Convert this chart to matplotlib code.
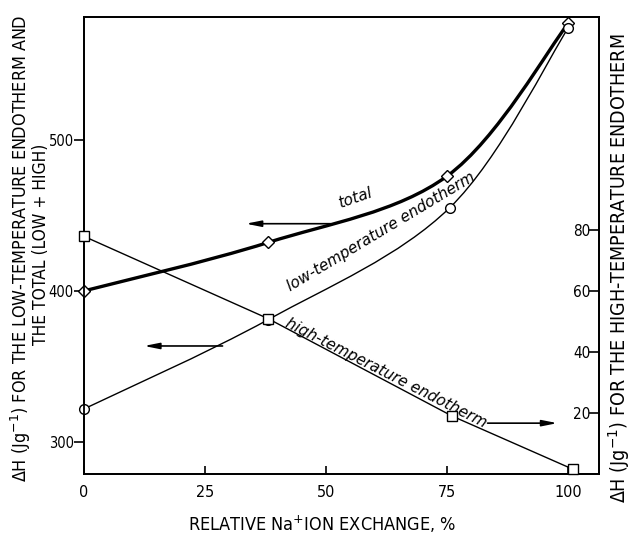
import numpy as np
import matplotlib
matplotlib.use("Agg")
import matplotlib.pyplot as plt
from matplotlib.path import Path
from matplotlib.patches import PathPatch
from matplotlib import font_manager as fm

# ---- data ----
x_total = [0, 38, 75, 100]
y_total = [400, 432, 476, 577]
x_low = [0, 38, 75.5, 100]
y_low = [322, 381, 455, 574]
x_high = [0, 38, 76, 101]
y_high = [78, 51, 19, 1.5]

left_ticks = [300, 400, 500]
right_ticks = [20, 40, 60, 80]
x_ticks = [0, 25, 50, 75, 100]

# pick a condensed font if available
cond = None
for f in fm.fontManager.ttflist:
    if f.name == 'DejaVu Sans' and f.stretch == 'condensed' and f.style == 'normal' and f.weight in (400, 'normal'):
        cond = fm.FontProperties(fname=f.fname)
        break
if cond is None:
    for nm in ['Roboto Condensed', 'Liberation Sans Narrow', 'Open Sans Condensed']:
        if any(f.name == nm for f in fm.fontManager.ttflist):
            cond = fm.FontProperties(family=nm)
            break
if cond is None:
    cond = fm.FontProperties(family='DejaVu Sans')

def cf(size):
    p = cond.copy()
    p.set_size(size)
    return p

plt.rcParams['font.family'] = ['DejaVu Sans']
plt.rcParams['mathtext.fontset'] = 'dejavusans'

fig = plt.figure(figsize=(6.34, 5.35), dpi=100)
ax = fig.add_axes([84/634, 1-474/535, (599-84)/634, (474-17)/535])
ax.set_xlim(0, 106.3)
ax.set_ylim(279, 581)

def smooth_path(xs, ys):
    pts = np.column_stack([xs, ys]).astype(float)
    n = len(pts)
    verts = [pts[0]]
    codes = [Path.MOVETO]
    for i in range(n - 1):
        p0 = pts[i - 1] if i > 0 else pts[i]
        p1 = pts[i]
        p2 = pts[i + 1]
        p3 = pts[i + 2] if i + 2 < n else pts[i + 1]
        c1 = p1 + (p2 - p0) / 6.0
        c2 = p2 - (p3 - p1) / 6.0
        verts += [c1, c2, p2]
        codes += [Path.CURVE4] * 3
    return Path(verts, codes)

ax.add_patch(PathPatch(smooth_path(x_total, y_total), fill=False, lw=2.4,
                       edgecolor='black', zorder=2))
ax.add_patch(PathPatch(smooth_path(x_low, y_low), fill=False, lw=1.0,
                       edgecolor='black', zorder=2))
ax.plot(x_total, y_total, ls='none', marker='D', ms=6, mfc='white',
        mec='black', mew=1.0, zorder=4, clip_on=False)
ax.plot(x_low, y_low, ls='none', marker='o', ms=7, mfc='white',
        mec='black', mew=1.0, zorder=4, clip_on=False)

ax2 = ax.twinx()
ax2.set_ylim(0, 150)
ax2.plot(x_high, y_high, color='black', lw=1.0, marker='s', ms=7,
         mfc='white', mec='black', mew=1.0, zorder=3, clip_on=False)

# ticks
ax.set_xticks(x_ticks)
ax.set_xticklabels([str(t) for t in x_ticks], fontproperties=cf(11.5))
ax.tick_params(axis='x', direction='in', length=6, width=1.2, pad=8)
ax.set_yticks(left_ticks)
ax.set_yticklabels([str(t) for t in left_ticks], fontproperties=cf(10.5))
ax.tick_params(axis='y', direction='out', length=7, width=1.2, pad=0.5)
ax2.set_yticks(right_ticks)
ax2.set_yticklabels([str(t) for t in right_ticks], fontproperties=cf(11))
ax2.tick_params(axis='y', direction='in', length=7, width=1.2, pad=-6)
for t in ax2.get_yticklabels():
    t.set_horizontalalignment('right')

for a in (ax, ax2):
    for s in a.spines.values():
        s.set_linewidth(1.3)

# annotations
ax.text(56, 461.5, 'total', rotation=19, fontsize=11, style='italic',
        ha='center', va='center')
ax.text(61.4, 439, 'low-temperature endotherm', rotation=31, fontsize=11,
        style='italic', ha='center', va='center')
ax.text(62.4, 346, 'high-temperature endotherm', rotation=-27, fontsize=11,
        style='italic', ha='center', va='center')

ap = dict(arrowstyle='-|>,head_length=0.9,head_width=0.18', color='black',
          lw=1.2, shrinkA=0, shrinkB=0)
ax.annotate('', xy=(33.4, 444.4), xytext=(50.9, 444.4), arrowprops=ap)
ax.annotate('', xy=(12.4, 363.6), xytext=(28.6, 363.6), arrowprops=ap)
ax.annotate('', xy=(97.7, 312.6), xytext=(83.3, 312.6), arrowprops=ap)

# axis labels
fig.text(21/634, 1-248/535, r'ΔH (Jg$^{-1}$) FOR THE LOW-TEMPERATURE ENDOTHERM AND',
         rotation=90, ha='center', va='center', fontproperties=cf(12.9))
fig.text(41/634, 1-244/535, 'THE TOTAL (LOW + HIGH)', rotation=90,
         ha='center', va='center', fontproperties=cf(12.5))
fig.text(619/634, 1-268/535, r'ΔH (Jg$^{-1}$) FOR THE HIGH-TEMPERATURE ENDOTHERM',
         rotation=90, ha='center', va='center', fontproperties=cf(14))
fig.text(322/634, 1-524/535, r'RELATIVE Na$^{+}$ION EXCHANGE, %',
         ha='center', va='center', fontproperties=cf(13))

fig.savefig('out.png', dpi=100)
